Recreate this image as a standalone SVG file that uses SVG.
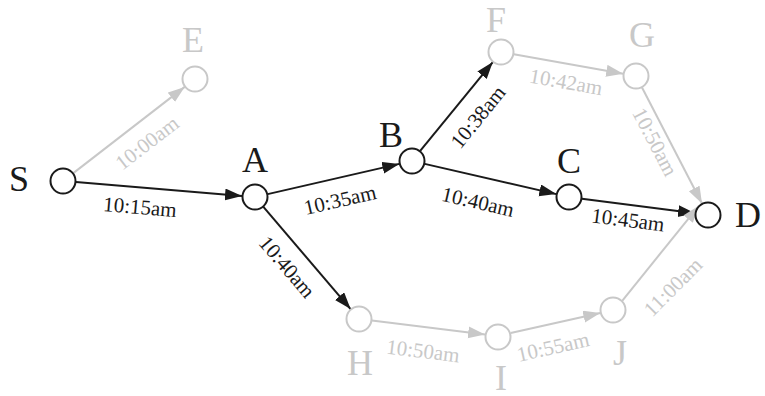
<svg xmlns="http://www.w3.org/2000/svg" width="765" height="396" viewBox="0 0 765 396">
<defs>
<style>
.n{fill:#fff;stroke-width:2}
.k{stroke:#1a1a1a}
.g{stroke:#c8c8c8}
.e{fill:none;stroke-width:2}
.nl{font-family:'Liberation Serif','DejaVu Serif',serif;font-size:36px;text-anchor:middle}
.el{font-family:'Liberation Serif','DejaVu Serif',serif;font-size:21px;text-anchor:middle}
.tk{fill:#1a1a1a}
.tg{fill:#c8c8c8}
</style>
<marker id="ak" markerUnits="userSpaceOnUse" markerWidth="18" markerHeight="13" refX="17" refY="6" orient="auto"><path d="M0,0 L17,6 L0,12 z" fill="#1a1a1a"/></marker>
<marker id="ag" markerUnits="userSpaceOnUse" markerWidth="18" markerHeight="13" refX="17" refY="6" orient="auto"><path d="M0,0 L17,6 L0,12 z" fill="#c8c8c8"/></marker>
</defs>
<rect width="765" height="396" fill="#fff"/>
<g id="connectors">
<line class="e g" x1="73.3" y1="173.1" x2="184.7" y2="86.9" marker-end="url(#ag)"/>
<line class="e k" x1="76" y1="182.1" x2="242" y2="195.9" marker-end="url(#ak)"/>
<line class="e k" x1="267.7" y1="194.1" x2="399.3" y2="163.9" marker-end="url(#ak)"/>
<line class="e k" x1="263.4" y1="206.9" x2="350.6" y2="309.1" marker-end="url(#ak)"/>
<line class="e k" x1="420.2" y1="150.9" x2="492.8" y2="62.1" marker-end="url(#ak)"/>
<line class="e k" x1="424.7" y1="163.9" x2="556.3" y2="194.1" marker-end="url(#ak)"/>
<line class="e g" x1="513.8" y1="54.3" x2="623.2" y2="73.7" marker-end="url(#ag)"/>
<line class="e g" x1="642" y1="87.5" x2="702" y2="203.5" marker-end="url(#ag)"/>
<line class="e k" x1="581.9" y1="198.7" x2="695.1" y2="213.3" marker-end="url(#ak)"/>
<line class="e g" x1="371.9" y1="320.6" x2="485.1" y2="334.4" marker-end="url(#ag)"/>
<line class="e g" x1="510.7" y1="333.1" x2="600.3" y2="312.9" marker-end="url(#ag)"/>
<line class="e g" x1="622.2" y1="300.8" x2="698.8" y2="205.8" marker-end="url(#ag)"/>
<text class="el tg" transform="translate(147,143) rotate(-37.7)" x="0" y="7">10:00am</text>
<text class="el tk" transform="translate(140,207) rotate(4.8)" x="0" y="7">10:15am</text>
<text class="el tk" transform="translate(340,200) rotate(-12.9)" x="0" y="7">10:35am</text>
<text class="el tk" transform="translate(478,117) rotate(-50.8)" x="0" y="7">10:38am</text>
<text class="el tk" transform="translate(478,202) rotate(12.9)" x="0" y="7">10:40am</text>
<text class="el tg" transform="translate(566,82) rotate(10)" x="0" y="7">10:42am</text>
<text class="el tg" transform="translate(655,142) rotate(62.6)" x="0" y="7">10:50am</text>
<text class="el tk" transform="translate(628,220) rotate(7.4)" x="0" y="7">10:45am</text>
<text class="el tk" transform="translate(287,267) rotate(49.5)" x="0" y="7">10:40am</text>
<text class="el tg" transform="translate(423,351) rotate(7)" x="0" y="7">10:50am</text>
<text class="el tg" transform="translate(553,347) rotate(-12.7)" x="0" y="7">10:55am</text>
<text class="el tg" transform="translate(673,287) rotate(-45)" x="0" y="7">11:00am</text>
</g>
<g id="S"><circle class="n k" cx="63" cy="181" r="12.5"/><text class="nl tk" x="19" y="191">S</text></g>
<g id="E"><circle class="n g" cx="195" cy="79" r="12.5"/><text class="nl tg" x="193" y="52">E</text></g>
<g id="A"><circle class="n k" cx="255" cy="197" r="12.5"/><text class="nl tk" x="255" y="172">A</text></g>
<g id="B"><circle class="n k" cx="412" cy="161" r="12.5"/><text class="nl tk" x="391" y="147">B</text></g>
<g id="F"><circle class="n g" cx="501" cy="52" r="12.5"/><text class="nl tg" x="496" y="32">F</text></g>
<g id="G"><circle class="n g" cx="636" cy="76" r="12.5"/><text class="nl tg" x="642" y="47">G</text></g>
<g id="C"><circle class="n k" cx="569" cy="197" r="12.5"/><text class="nl tk" x="569" y="173">C</text></g>
<g id="D"><circle class="n k" cx="708" cy="215" r="12.5"/><text class="nl tk" x="748" y="227">D</text></g>
<g id="H"><circle class="n g" cx="359" cy="319" r="12.5"/><text class="nl tg" x="360" y="375">H</text></g>
<g id="I"><circle class="n g" cx="498" cy="337" r="12.5"/><text class="nl tg" x="501" y="390">I</text></g>
<g id="J"><circle class="n g" cx="613" cy="310" r="12.5"/><text class="nl tg" x="620" y="365">J</text></g>
</svg>
